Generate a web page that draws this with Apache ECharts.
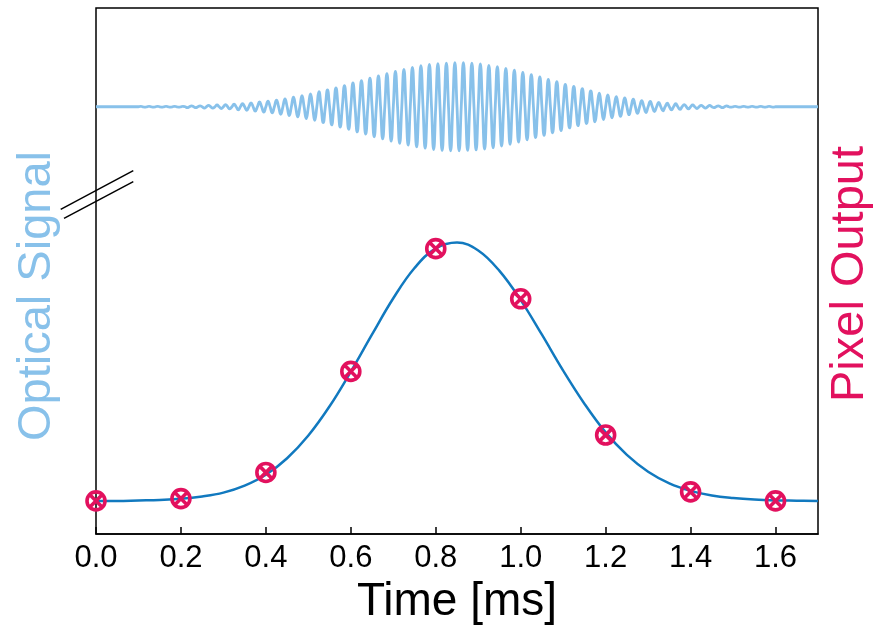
<!DOCTYPE html>
<html>
<head>
<meta charset="utf-8">
<script src="https://cdn.jsdelivr.net/npm/echarts@6/dist/echarts.min.js"></script>
<style>
  html, body { margin: 0; padding: 0; background: #fff; }
  #main { width: 883px; height: 625px; }
</style>
</head>
<body>
<div id="main"></div>
<script>
// optical signal: amplitude of each half-cycle (first at 0.105 ms, every 0.01 ms, alternating sign)
var OSC_START = 0.105;
var OSC_HALF = 0.01;
var OSC_AMP = [
  0.01,0.01,0.01,0.01,0.01,0.01,0.01,0.01,0.01,0.01,
  0.01,0.02,0.02,0.02,0.02,0.03,0.03,0.03,0.04,0.04,
  0.05,0.05,0.06,0.07,0.07,0.08,0.09,0.10,0.11,0.12,
  0.13,0.14,0.15,0.17,0.18,0.20,0.22,0.23,0.25,0.27,
  0.29,0.31,0.34,0.36,0.38,0.41,0.43,0.46,0.48,0.51,
  0.54,0.57,0.59,0.62,0.65,0.68,0.70,0.73,0.75,0.78,
  0.80,0.83,0.85,0.87,0.89,0.91,0.93,0.94,0.96,0.97,
  0.98,0.99,0.99,1.00,1.00,
  1.00,1.00,0.99,0.99,0.98,0.97,0.96,0.94,0.93,0.91,
  0.89,0.87,0.85,0.83,0.80,0.78,0.75,0.73,0.70,0.68,
  0.65,0.62,0.59,0.57,0.54,0.51,0.48,0.46,0.43,0.41,
  0.38,0.36,0.34,0.31,0.29,0.27,0.25,0.23,0.22,0.20,
  0.18,0.17,0.15,0.14,0.13,0.12,0.11,0.10,0.09,0.08,
  0.07,0.07,0.06,0.05,0.05,0.04,0.04,0.03,0.03,0.03,
  0.02,0.02,0.02,0.02,0.01,0.01,0.01,0.01,0.01,0.01,
  0.01,0.01,0.01,0.01,0.01
];

// pixel output fit curve
var FIT_T = [0,0.05,0.1,0.15,0.2,0.25,0.3,0.35,0.4,0.45,0.5,0.55,0.6,0.65,0.7,0.75,0.8,0.85,
  0.9,0.95,1.0,1.05,1.1,1.15,1.2,1.25,1.3,1.35,1.4,1.45,1.5,1.55,1.6,1.65,1.7];
var FIT_Y = [0,0,0.002,0.004,0.008,0.017,0.032,0.059,0.101,0.165,0.253,0.366,0.500,0.644,0.784,0.901,0.977,1.000,
  0.969,0.890,0.777,0.643,0.504,0.376,0.265,0.178,0.113,0.068,0.039,0.021,0.011,0.005,0.002,0.001,0];

// measured pixel output
var PIX_T = [0,0.2,0.4,0.6,0.8,1.0,1.2,1.4,1.6];
var PIX_Y = [0,0.009,0.110,0.501,0.976,0.782,0.255,0.035,0];

var OPT_COLOR = '#88C1EA';
var PIX_COLOR = '#E2115E';
var FIT_COLOR = '#1179BF';
var FONT = '"Liberation Sans", Arial, sans-serif';

var oscData = [[0, 0]];
for (var i = 0; i < OSC_AMP.length; i++) {
  var tc = OSC_START + i * OSC_HALF;
  oscData.push([+(tc - OSC_HALF / 2).toFixed(4), 0]);
  oscData.push([+tc.toFixed(4), (i % 2 == 0 ? 1 : -1) * OSC_AMP[i]]);
}
oscData.push([+(OSC_START + OSC_AMP.length * OSC_HALF - OSC_HALF / 2).toFixed(4), 0]);
oscData.push([1.7, 0]);

var fitData = [];
for (var i = 0; i < FIT_T.length; i++) fitData.push([FIT_T[i], FIT_Y[i]]);
var pixData = [];
for (var i = 0; i < PIX_T.length; i++) pixData.push([PIX_T[i], PIX_Y[i]]);

var chart = echarts.init(document.getElementById('main'));
var option = {
  animation: false,
  backgroundColor: '#fff',
  grid: {
    left: 96, right: 65, top: 8, bottom: 91,
    containLabel: false, outerBoundsMode: 'none',
    show: true, borderColor: '#000', borderWidth: 1.5, backgroundColor: 'transparent'
  },
  xAxis: {
    type: 'value', min: 0, max: 1.7, interval: 0.2,
    name: 'Time [ms]', nameLocation: 'middle', nameGap: 43,
    nameTextStyle: { fontSize: 46, color: '#000', fontFamily: FONT },
    axisLine: { show: true, onZero: false, lineStyle: { color: '#000', width: 1.5 } },
    axisTick: { show: true, inside: true, length: 7, lineStyle: { color: '#000', width: 1.5 } },
    axisLabel: {
      fontSize: 31, color: '#000', fontFamily: FONT, margin: 9, showMaxLabel: false,
      formatter: function (v) { return v.toFixed(1); }
    },
    splitLine: { show: false }
  },
  yAxis: [
    { type: 'value', min: -9.69, max: 2.24, show: false, splitLine: { show: false } },
    { type: 'value', min: -0.128, max: 1.907, show: false, splitLine: { show: false } }
  ],
  graphic: [
    { type: 'text', x: 37, y: 296, rotation: Math.PI / 2,
      style: { text: 'Optical Signal', fontSize: 47, fontFamily: FONT, fill: OPT_COLOR, align: 'center', verticalAlign: 'middle' } },
    { type: 'text', x: 850, y: 274, rotation: Math.PI / 2,
      style: { text: 'Pixel Output', fontSize: 47, fontFamily: FONT, fill: PIX_COLOR, align: 'center', verticalAlign: 'middle' } },
    { type: 'line', shape: { x1: 60.7, y1: 209.3, x2: 133.3, y2: 170.7 }, style: { stroke: '#000', lineWidth: 1.5 } },
    { type: 'line', shape: { x1: 64, y1: 218.3, x2: 133.3, y2: 181.7 }, style: { stroke: '#000', lineWidth: 1.5 } }
  ],
  series: [
    {
      name: 'Optical Signal', type: 'line', yAxisIndex: 0, data: oscData,
      showSymbol: false, smooth: 0.5,
      lineStyle: { color: OPT_COLOR, width: 2.8 }
    },
    {
      name: 'Fit', type: 'line', yAxisIndex: 1, data: fitData,
      showSymbol: false, smooth: 0.4,
      lineStyle: { color: FIT_COLOR, width: 2.5 }
    },
    {
      name: 'Pixel Output', type: 'scatter', yAxisIndex: 1, data: pixData,
      symbol: 'path://M20,10A10,10,0,1,1,0,10A10,10,0,1,1,20,10ZM2.93,2.93L17.07,17.07M17.07,2.93L2.93,17.07',
      symbolSize: 18,
      itemStyle: { color: 'transparent', borderColor: PIX_COLOR, borderWidth: 3.6, opacity: 1 },
      z: 5
    }
  ]
};
chart.setOption(option);
</script>
</body>
</html>
